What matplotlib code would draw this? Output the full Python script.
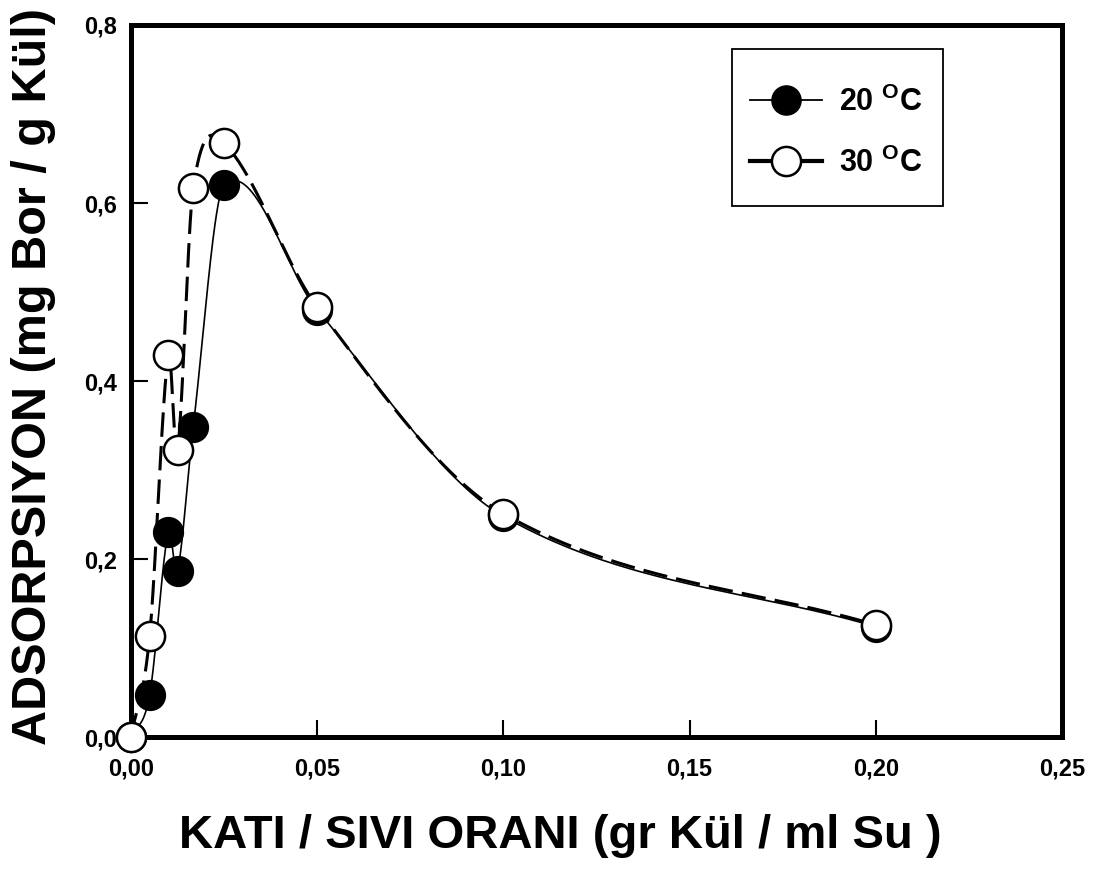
import numpy as np
import matplotlib
matplotlib.use('Agg')
import matplotlib.pyplot as plt
from matplotlib.lines import Line2D
from matplotlib.patches import Rectangle

plt.rcParams['font.family'] = ['Liberation Sans', 'DejaVu Sans']
plt.rcParams['font.weight'] = 'bold'
plt.rcParams['mathtext.fontset'] = 'custom'
plt.rcParams['mathtext.bf'] = 'Liberation Sans:bold'
plt.rcParams['mathtext.rm'] = 'Liberation Sans:bold'

# data
oran = [0.0, 0.005, 0.01, 0.0125, 0.0167, 0.025, 0.05, 0.10, 0.20]
ads_20 = [0.0, 0.047, 0.230, 0.187, 0.348, 0.620, 0.480, 0.248, 0.124]
ads_30 = [0.0, 0.113, 0.429, 0.322, 0.617, 0.667, 0.483, 0.251, 0.126]
xticks = [0.0, 0.05, 0.10, 0.15, 0.20, 0.25]
yticks = [0.0, 0.2, 0.4, 0.6, 0.8]


def smooth(x, y, n=80):
    # piecewise cubic hermite (catmull-rom tangents) -> smooth line through points
    x = np.asarray(x, float)
    y = np.asarray(y, float)
    m = np.zeros_like(y)
    m[1:-1] = (y[2:] - y[:-2]) / (x[2:] - x[:-2])
    m[0] = (y[1] - y[0]) / (x[1] - x[0])
    m[-1] = (y[-1] - y[-2]) / (x[-1] - x[-2])
    xs, ys = [], []
    for i in range(len(x) - 1):
        h = x[i + 1] - x[i]
        t = np.linspace(0, 1, n)
        h00 = 2 * t**3 - 3 * t**2 + 1
        h10 = t**3 - 2 * t**2 + t
        h01 = -2 * t**3 + 3 * t**2
        h11 = t**3 - t**2
        xs.append(x[i] + t * h)
        ys.append(h00 * y[i] + h10 * h * m[i] + h01 * y[i + 1] + h11 * h * m[i + 1])
    return np.concatenate(xs), np.concatenate(ys)


fig = plt.figure(figsize=(10.95, 8.71), dpi=100)
ax = fig.add_axes([0.1196, 0.1538, 0.8502, 0.8175])

sx, sy = smooth(oran, ads_20)
ax.plot(sx, sy, color='black', lw=1.2, zorder=2)
dx, dy = smooth(oran, ads_30)
ax.plot(dx, dy, color='black', lw=2.2, dashes=(8, 3), zorder=2)

ax.plot(oran, ads_20, 'o', ms=21, mfc='black', mec='black', mew=1.5,
        clip_on=False, zorder=3)
ax.plot(oran, ads_30, 'o', ms=21, mfc='white', mec='black', mew=1.8,
        clip_on=False, zorder=4)

ax.set_xlim(0, 0.25)
ax.set_ylim(0, 0.8)
ax.set_xticks(xticks)
ax.set_yticks(yticks)
ax.set_xticklabels([f'{v:.2f}'.replace('.', ',') for v in xticks])
ax.set_yticklabels([f'{v:.1f}'.replace('.', ',') for v in yticks])
ax.tick_params(direction='in', length=12, width=1.5, labelsize=17)
ax.tick_params(axis='x', pad=15)
ax.tick_params(axis='y', pad=10)
for s in ax.spines.values():
    s.set_linewidth(3.6)

ax.set_xlabel('KATI / SIVI ORANI (gr Kül / ml Su )', fontsize=34,
              fontweight='bold', va='center')
ax.set_ylabel('ADSORPSIYON (mg Bor / g Kül)', fontsize=35,
              fontweight='bold', va='center')
ax.xaxis.set_label_coords(0.461, -0.139)
ax.yaxis.set_label_coords(-0.105, 0.507)

# legend: entries without frame, box drawn separately
h20 = Line2D([], [], color='black', lw=1.3, marker='o', ms=21,
             mfc='black', mec='black')
h30 = Line2D([], [], color='black', lw=3, marker='o', ms=21,
             mfc='white', mec='black', mew=1.8)
leg = ax.legend([h20, h30], [r'20 $^{\bf O}$C', r'30 $^{\bf O}$C'],
                loc='upper left', bbox_to_anchor=(0.665, 0.914),
                fontsize=22, frameon=False,
                handlelength=2.35, handletextpad=0.55,
                borderpad=0, labelspacing=0.98, borderaxespad=0)
for t in leg.get_texts():
    t.set_fontweight('bold')
ax.add_patch(Rectangle((0.6455, 0.7458), 0.2266, 0.2205, transform=ax.transAxes,
                       fill=False, edgecolor='black', lw=1.3, zorder=5))

fig.savefig('out.png', dpi=100)
